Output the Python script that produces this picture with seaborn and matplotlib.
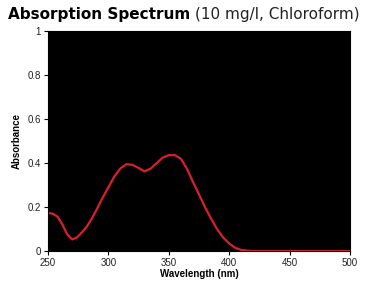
#!/usr/bin/env python3
"""Absorption spectrum (10 mg/l, chloroform) on a black plot area."""

import matplotlib
matplotlib.use("Agg")
import matplotlib.pyplot as plt
import pandas as pd
import seaborn as sns

# values
wavelength = [250, 254, 258, 262, 266, 270, 274, 278, 282, 286, 290, 295, 300,
              305, 310, 315, 320, 325, 330, 335, 340, 345, 350, 355, 360, 365,
              370, 375, 380, 385, 390, 395, 400, 405, 410, 415, 420, 450, 500]
absorbance = [0.173, 0.170, 0.156, 0.120, 0.075, 0.053, 0.062, 0.085, 0.110,
              0.145, 0.186, 0.240, 0.290, 0.340, 0.376, 0.395, 0.392, 0.378,
              0.362, 0.375, 0.400, 0.425, 0.436, 0.436, 0.420, 0.375, 0.315,
              0.258, 0.200, 0.148, 0.100, 0.062, 0.035, 0.015, 0.005, 0.002,
              0.0, 0.0, 0.0]
x_ticks = [250, 300, 350, 400, 450, 500]
y_ticks = [0, 0.2, 0.4, 0.6, 0.8, 1]
y_tick_labels = ["0", "0.2", "0.4", "0.6", "0.8", "1"]


def main() -> None:
    sns.set_style("ticks")
    plt.rcParams["font.family"] = ["Liberation Sans", "DejaVu Sans"]
    plt.rcParams["text.color"] = "black"

    df = pd.DataFrame({"wavelength": wavelength, "absorbance": absorbance})

    fig = plt.figure(figsize=(3.75, 2.85), dpi=100)
    ax = fig.add_axes([0.128, 0.119, 0.805, 0.772])
    ax.set_facecolor("black")
    sns.lineplot(data=df, x="wavelength", y="absorbance", color="#d8202c",
                 linewidth=1.6, ax=ax)

    ax.set_xlim(250, 500)
    ax.set_ylim(0, 1)
    ax.set_xticks(x_ticks)
    ax.set_yticks(y_ticks)
    ax.set_yticklabels(y_tick_labels)
    ax.tick_params(labelsize=7, length=3, width=0.8, direction="out",
                   colors="black", labelcolor="#222222", pad=2)
    for s in ax.spines.values():
        s.set_visible(True)
        s.set_color("black")
    ax.set_xlabel("Wavelength (nm)", fontsize=7, fontweight="bold", labelpad=1,
                  color="black")
    ax.set_ylabel("Absorbance", fontsize=7, fontweight="bold", labelpad=4,
                  color="black")

    t1 = fig.text(0.021, 0.935, "Absorption Spectrum", fontsize=11,
                  fontweight="bold", ha="left", va="baseline", color="black",
                  family=["DejaVu Sans"])
    fig.canvas.draw()
    bb = t1.get_window_extent().transformed(fig.transFigure.inverted())
    fig.text(bb.x1 + 0.012, 0.935, "(10 mg/l, Chloroform)", fontsize=11,
             ha="left", va="baseline", color="#222222", family=["DejaVu Sans"])

    fig.savefig("out.png", dpi=100)


if __name__ == "__main__":
    main()
